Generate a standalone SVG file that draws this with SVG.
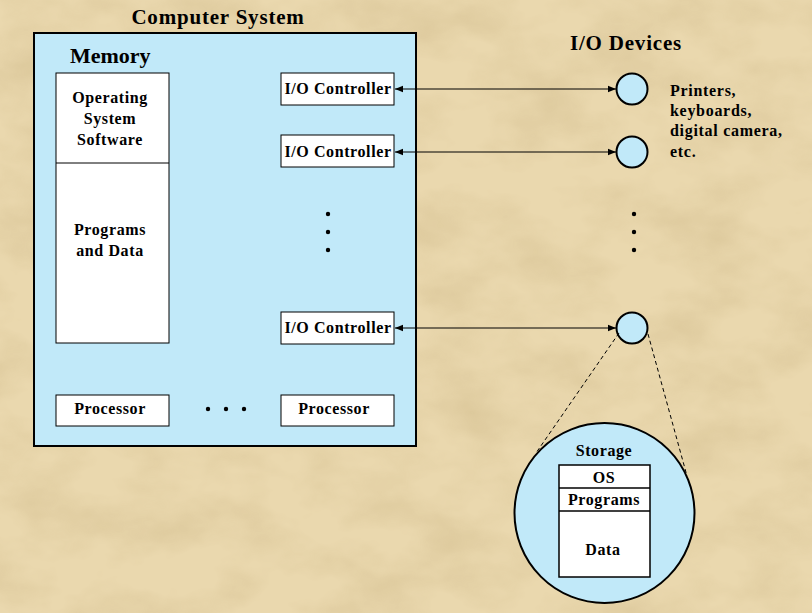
<svg xmlns="http://www.w3.org/2000/svg" width="812" height="613" viewBox="0 0 812 613">
<defs>
<style>
text{font-family:"Liberation Serif","Times New Roman",serif;font-weight:bold;fill:#000}
.t{font-size:16px;text-anchor:middle;letter-spacing:0.6px}
.d{font-size:16px;letter-spacing:0.7px}
.h{font-size:21px;text-anchor:middle;letter-spacing:0.8px}
.box{fill:#fff;stroke:#000;stroke-width:1}
.blue{fill:#C1E9F9;stroke:#000;stroke-width:2}
.con{stroke:#000;stroke-width:1;fill:none}
.dash{stroke:#000;stroke-width:1;fill:none;stroke-dasharray:4 3}
</style>
<marker id="ah" viewBox="0 0 10 10" refX="10" refY="5" markerWidth="8" markerHeight="8" markerUnits="userSpaceOnUse" orient="auto-start-reverse">
<path d="M0,1 L10,5 L0,9 z" fill="#000"/>
</marker>
<filter id="tex" x="0" y="0" width="100%" height="100%">
<feTurbulence type="fractalNoise" baseFrequency="0.012 0.02" numOctaves="4" seed="3"/>
<feColorMatrix type="matrix" values="0 0 0 0 0.55  0 0 0 0 0.42  0 0 0 0 0.2  0 0 0 1.3 -0.5"/>
</filter>
</defs>
<rect width="812" height="613" fill="#EAD8AE"/>
<rect width="812" height="613" filter="url(#tex)" opacity="0.5"/>

<text class="h" x="218" y="24">Computer System</text>
<text class="h" x="626" y="50">I/O Devices</text>

<g id="computer">
<rect class="blue" x="34" y="33" width="382" height="413"/>
<text x="70" y="63" style="font-size:22px">Memory</text>
</g>

<g id="memory">
<rect class="box" x="56" y="73" width="113" height="270"/>
<line class="con" x1="56" y1="163" x2="169" y2="163"/>
<text class="t" x="110" y="103">Operating</text>
<text class="t" x="110" y="124">System</text>
<text class="t" x="110" y="145">Software</text>
<text class="t" x="110" y="235">Programs</text>
<text class="t" x="110" y="256">and Data</text>
</g>

<g id="ioc1"><rect class="box" x="281" y="73" width="113" height="32"/><text class="t" x="338" y="94">I/O Controller</text></g>
<g id="ioc2"><rect class="box" x="281" y="135" width="113" height="32"/><text class="t" x="338" y="157">I/O Controller</text></g>
<g id="ioc3"><rect class="box" x="281" y="312" width="113" height="32"/><text class="t" x="338" y="333">I/O Controller</text></g>

<g id="proc1"><rect class="box" x="56" y="395" width="113" height="31"/><text class="t" x="110" y="414">Processor</text></g>
<g id="proc2"><rect class="box" x="281" y="395" width="113" height="31"/><text class="t" x="334" y="414">Processor</text></g>

<g id="dots">
<circle cx="208" cy="409" r="2.2"/><circle cx="226" cy="409" r="2.2"/><circle cx="244" cy="409" r="2.2"/>
<circle cx="328" cy="214" r="2.2"/><circle cx="328" cy="232" r="2.2"/><circle cx="328" cy="250" r="2.2"/>
<circle cx="634" cy="214" r="2.2"/><circle cx="634" cy="232" r="2.2"/><circle cx="634" cy="250" r="2.2"/>
</g>

<g id="dev1"><circle class="blue" cx="632" cy="89" r="15.5"/></g>
<g id="dev2"><circle class="blue" cx="632" cy="152" r="15.5"/></g>
<g id="dev3"><circle class="blue" cx="632" cy="328" r="15.5"/></g>

<g id="devlabel">
<text class="d" x="670" y="96">Printers,</text>
<text class="d" x="670" y="116">keyboards,</text>
<text class="d" x="670" y="136">digital camera,</text>
<text class="d" x="670" y="157">etc.</text>
</g>

<g id="connectors">
<line class="con" x1="395" y1="89" x2="616" y2="89" marker-start="url(#ah)" marker-end="url(#ah)"/>
<line class="con" x1="395" y1="152" x2="616" y2="152" marker-start="url(#ah)" marker-end="url(#ah)"/>
<line class="con" x1="395" y1="328" x2="616" y2="328" marker-start="url(#ah)" marker-end="url(#ah)"/>
<line class="dash" x1="619" y1="333" x2="536" y2="453"/>
<line class="dash" x1="648" y1="334" x2="687" y2="476"/>
</g>

<g id="storage">
<circle class="blue" cx="604.5" cy="513" r="90"/>
<text class="t" x="604" y="456">Storage</text>
<rect class="box" x="559" y="465" width="91" height="112" style="stroke-width:1.5"/>
<line class="con" x1="559" y1="488" x2="650" y2="488" style="stroke-width:1.5"/>
<line class="con" x1="559" y1="511" x2="650" y2="511" style="stroke-width:1.5"/>
<text class="t" x="604" y="483">OS</text>
<text class="t" x="604" y="505">Programs</text>
<text class="t" x="603" y="555">Data</text>
</g>
</svg>
